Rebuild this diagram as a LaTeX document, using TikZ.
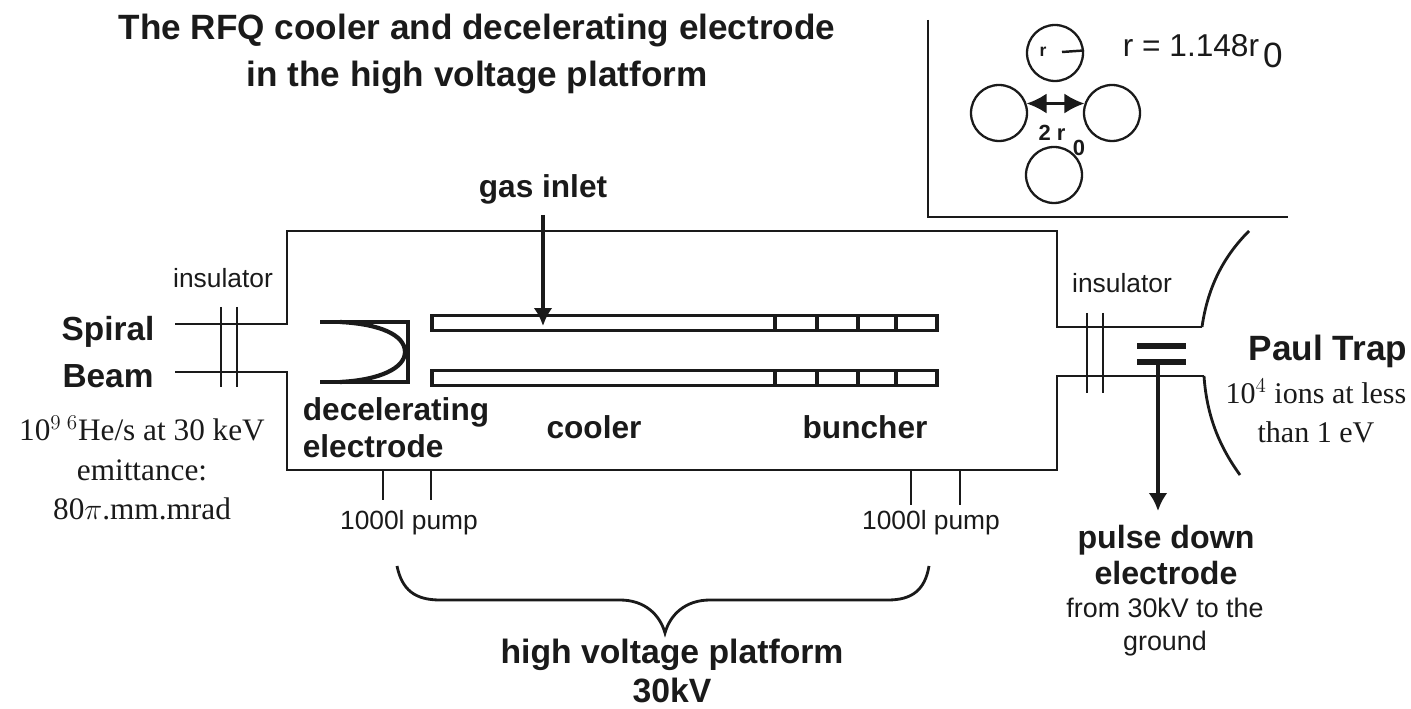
\documentclass[tikz,border=0pt]{standalone}
\usepackage{fontspec}
\setmainfont{Liberation Sans}
\newfontfamily\serifnote{Liberation Serif}
\usetikzlibrary{arrows.meta}
\definecolor{ink}{HTML}{1A1A1A}
\tikzset{
  wall/.style={draw=ink, line width=1.6pt},
  thin wall/.style={draw=ink, line width=1.4pt},
  rod/.style={draw=ink, line width=2.1pt, fill=white, inner sep=0pt},
  plate/.style={draw=ink, line width=3.8pt},
  pole/.style={draw=ink, line width=1.3pt, circle, minimum size=1.12cm, inner sep=0pt},
  arrowline/.style={-{Latex[length=3.6mm,width=3.8mm]}, draw=ink, line width=2.4pt},
  gap/.style={{Latex[length=4mm,width=4mm]}-{Latex[length=4mm,width=4mm]}, draw=ink, line width=1.4pt},
  bigtxt/.style={font=\fontsize{20}{26.5}\selectfont\bfseries, text=ink, align=center, inner sep=0pt},
  midtxt/.style={font=\fontsize{18}{21}\selectfont\bfseries, text=ink, align=center, inner sep=0pt},
  lbl/.style={font=\fontsize{15}{19}\selectfont, text=ink, align=center, inner sep=0pt},
  note/.style={font=\serifnote\fontsize{17.8}{22.5}\selectfont, text=ink, align=center, inner sep=0pt},
}
\begin{document}
\begin{tikzpicture}[x=0.02cm,y=-0.02cm]
  \useasboundingbox (0,0) rectangle (1411,709);
  % title
  \node[bigtxt] (title) at (477,54) {The RFQ cooler and decelerating electrode\\in the high voltage platform};
  % inset with the four poles
  \draw[wall] (928,20) -- (928,217) -- (1288,217);
  \node[pole] (ptop) at (1055,53) {};
  \node[pole] (pleft) at (999,113) {};
  \node[pole] (pright) at (1112,113) {};
  \node[pole] (pbot) at (1054,175) {};
  \draw[gap] (pleft.19) -- (pright.161);
  \coordinate (rstart) at (1062,52);
  \draw[thin wall] (rstart) -- (ptop.5);
  \node[lbl, font=\fontsize{10}{10}\selectfont\bfseries] (rsym) at (1043,52) {r};
  \node[lbl, font=\fontsize{18}{18}\selectfont] (rval) at (1191,46) {r = 1.148r};
  \node[lbl, font=\fontsize{20}{20}\selectfont] (rsub) at (1273,55) {0};
  \node[lbl, font=\fontsize{12.5}{13}\selectfont\bfseries] (tworo) at (1052,133) {2 r};
  \node[lbl, font=\fontsize{12.5}{13}\selectfont\bfseries] (twosub) at (1079,148) {0};
  % chamber with pipes
  \draw[wall] (175,324) -- (287,324) -- (287,231) -- (1057,231) -- (1057,327) -- (1202,327);
  \draw[wall] (175,372) -- (287,372) -- (287,470) -- (1057,470) -- (1057,376) -- (1204,376);
  % insulators
  \draw[thin wall] (221,307) -- (221,387) (237,307) -- (237,387);
  \draw[thin wall] (1087,313) -- (1087,393) (1103,313) -- (1103,393);
  \node[lbl] (insl) at (223,278) {insulator};
  \node[lbl] (insr) at (1122,283) {insulator};
  % paul trap end
  \draw[wall] (1202,327) .. controls (1208,285) and (1225,255) .. (1249,231);
  \draw[wall] (1204,376) .. controls (1207,420) and (1222,450) .. (1240,475);
  \draw[plate] (1137,346) -- (1186,346);
  \draw[plate] (1137,362) -- (1186,362);
  \coordinate (plug) at (1158,362);
  \coordinate (plugend) at (1158,511);
  \draw[arrowline] (plug) -- (plugend);
  % decelerating electrode
  \draw[thin wall, line width=2.2pt] (320,322) -- (408,322) -- (408,382) -- (320,382);
  \draw[plate, line width=2.4pt] (340,322) .. controls (380,324) and (405,335) .. (405,352)
     .. controls (405,368) and (380,380) .. (340,382);
  % cooler rods
  \node[rod, minimum width=505*0.02cm, minimum height=15*0.02cm] (rodup) at (684.5,323) {};
  \node[rod, minimum width=505*0.02cm, minimum height=15*0.02cm] (rodlo) at (684.5,378) {};
  \foreach \xb in {775,817,858,896}{
    \draw[thin wall, line width=2pt] (\xb,316) -- (\xb,331);
    \draw[thin wall, line width=2pt] (\xb,371) -- (\xb,386);
  }
  % gas
  \node[midtxt] (gas) at (543,189) {gas inlet};
  \coordinate (gastop) at (543,215);
  \coordinate (gasend) at (543,326);
  \draw[arrowline] (gastop) -- (gasend);
  % inner labels
  \node[midtxt, align=left] (dec) at (396,428) {decelerating\\electrode};
  \node[midtxt] (cool) at (594,427) {cooler};
  \node[midtxt] (bunch) at (865,427) {buncher};
  % left side
  \node[font=\fontsize{19}{27}\selectfont\bfseries, text=ink, align=center, inner sep=0pt] (spiral) at (108,352) {Spiral\\Beam};
  \node[note] (beam) at (142,468) {10$^{9}$\,$^{6}$He/s at 30 keV\\emittance:\\80$\pi$.mm.mrad};
  % pumps
  \draw[thin wall] (383,470) -- (383,500) (431,470) -- (431,500);
  \draw[thin wall] (911,470) -- (911,505) (960,470) -- (960,505);
  \node[lbl] (pumpl) at (409,523) {1000l pump};
  \node[lbl] (pumpr) at (931,523) {1000l pump};
  % brace
  \draw[wall] (397,566) .. controls (402,590) and (415,600) .. (440,600)
     -- (620,600) .. controls (645,600) and (660,615) .. (665,633)
     .. controls (670,615) and (685,600) .. (710,600)
     -- (888,600) .. controls (912,600) and (925,590) .. (929,566);
  \node[bigtxt, font=\fontsize{19.2}{22.5}\selectfont\bfseries] (hv) at (672,671) {high voltage platform\\30kV};
  % right side
  \node[font=\fontsize{20}{20}\selectfont\bfseries, text=ink, inner sep=0pt] (paul) at (1328,351) {Paul Trap};
  \node[note, font=\serifnote\fontsize{17.1}{22}\selectfont] (ions) at (1316,411) {10$^{4}$ ions at less\\than 1 eV};
  \node[midtxt, font=\fontsize{18.3}{20.5}\selectfont\bfseries] (pulse) at (1166,555) {pulse down\\electrode};
  \node[lbl, font=\fontsize{15.3}{19}\selectfont] (ground) at (1165,627) {from 30kV to the\\ground};
\end{tikzpicture}
\end{document}
